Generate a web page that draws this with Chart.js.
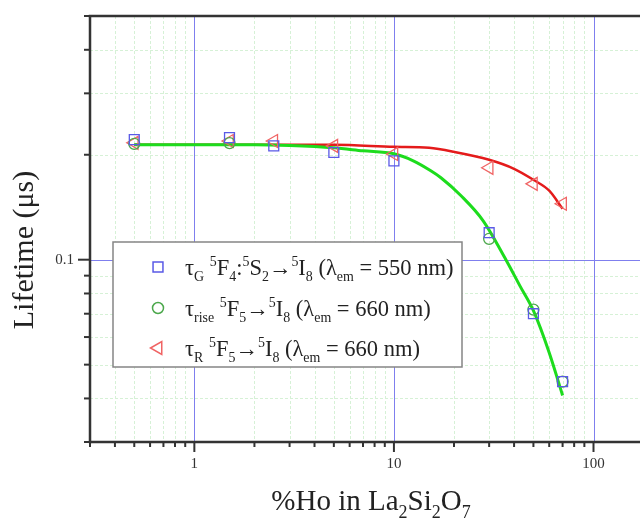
<!DOCTYPE html>
<html><head><meta charset="utf-8">
<script src="https://cdn.jsdelivr.net/npm/chart.js@4.4.1/dist/chart.umd.min.js"></script>
<style>html,body{margin:0;padding:0;background:#fff;overflow:hidden}canvas{display:block}</style>
</head><body>
<canvas id="c" width="640" height="518"></canvas>
<script>
// ---- data ----
const xG = [0.5, 1.5, 2.5, 5, 10, 30, 50, 70];
const tauG = [0.221, 0.224, 0.212, 0.203, 0.192, 0.1195, 0.070, 0.0447];
const xRise = [0.5, 1.5, 30, 50, 70];
const tauRise = [0.215, 0.216, 0.1148, 0.0719, 0.0447];
const xR = [0.5, 1.5, 2.5, 5, 10, 30, 50, 70];
const tauR = [0.2164, 0.219, 0.219, 0.212, 0.201, 0.1835, 0.165, 0.1447];
const fitGx = [0.5, 1, 2, 3, 5, 7, 10, 12.5, 15.3, 17.2, 21.7, 28, 36.4, 43, 50, 60, 70];
const fitGy = [0.2136, 0.2136, 0.2136, 0.2125, 0.2093, 0.2052, 0.2012, 0.1921, 0.1799, 0.1718, 0.1525, 0.1293, 0.1, 0.0837, 0.0714, 0.0541, 0.0408];
const fitRx = [0.5, 2, 5, 10, 15, 20, 30, 40, 50, 60, 70];
const fitRy = [0.2136, 0.2136, 0.2136, 0.2107, 0.2093, 0.2039, 0.1935, 0.1823, 0.1695, 0.1577, 0.1399];
const xGridValues = [0.3,0.4,0.5,0.6,0.7,0.8,0.9,1,2,3,4,5,6,7,8,9,10,20,30,40,50,60,70,80,90,100];
const xMajor = [1, 10, 100];
const xTickLabels = ['1', '10', '100'];
const yGridValues = [0.03,0.04,0.05,0.06,0.07,0.08,0.09,0.1,0.2,0.3,0.4,0.5];
const yMajor = [0.1];
const yTickLabels = ['0.1'];
const legendLabels = [
  'τ_{G} ^{5}F_{4}:^{5}S_{2}→^{5}I_{8} (λ_{em} = 550 nm)',
  'τ_{rise} ^{5}F_{5}→^{5}I_{8} (λ_{em} = 660 nm)',
  'τ_{R} ^{5}F_{5}→^{5}I_{8} (λ_{em} = 660 nm)'
];
const xTitle = '%Ho in La_{2}Si_{2}O_{7}';
const yTitle = 'Lifetime (μs)';

// ---- styles ----
const SERIF = '"Liberation Serif","Times New Roman",serif';
const C_SQ = '#5a5ae6', C_CI = '#4ca84c', C_TR = '#f06464';
const C_GL = '#1ddc1d', C_RL = '#e41b1b';
const markers = [
  {pointStyle:'rect', radius:7, rotation:0, color:C_SQ},
  {pointStyle:'circle', radius:5.5, rotation:0, color:C_CI},
  {pointStyle:'triangle', radius:7.5, rotation:-90, color:C_TR}
];

function parseRich(s){
  const segs=[]; let i=0, buf='';
  while(i<s.length){
    const c=s[i];
    if((c==='_'||c==='^') && s[i+1]==='{'){
      if(buf){segs.push({t:buf,k:0});buf='';}
      const j=s.indexOf('}',i);
      segs.push({t:s.slice(i+2,j),k:c==='_'?1:-1});
      i=j+1;
    } else {buf+=c;i++;}
  }
  if(buf) segs.push({t:buf,k:0});
  return segs;
}
function fontFor(s,size){ return (s.k? size*0.62 : size)+'px '+SERIF; }
function richWidth(ctx,segs,size){ let w=0; for(const s of segs){ctx.font=fontFor(s,size); w+=ctx.measureText(s.t).width;} return w; }
function drawRich(ctx,str,x,y,size,align){
  const segs=parseRich(str);
  let cx = align==='center' ? x - richWidth(ctx,segs,size)/2 : x;
  ctx.textAlign='left'; ctx.textBaseline='alphabetic';
  for(const s of segs){
    ctx.font=fontFor(s,size);
    const dy = s.k===1 ? size*0.28 : (s.k===-1 ? -size*0.38 : 0);
    ctx.fillText(s.t,cx,y+dy);
    cx += ctx.measureText(s.t).width;
  }
}

const pts=(xs,ys)=>xs.map((v,i)=>({x:v,y:ys[i]}));
const noPad = s => { s.paddingTop=0; s.paddingBottom=0; s.paddingLeft=0; s.paddingRight=0; };

const decor = {
  id:'decor',
  beforeDatasetsDraw(chart){
    const {ctx, chartArea:a, scales:{x,y}} = chart;
    ctx.save();
    ctx.lineWidth=1;
    ctx.strokeStyle='#d6f1d6'; ctx.setLineDash([3,2]);
    for(const v of xGridValues){ if(xMajor.includes(v)) continue;
      const p=Math.round(x.getPixelForValue(v))+0.5;
      ctx.beginPath(); ctx.moveTo(p,a.top); ctx.lineTo(p,a.bottom); ctx.stroke(); }
    for(const v of yGridValues){ if(yMajor.includes(v)) continue;
      const p=Math.round(y.getPixelForValue(v))+0.5;
      ctx.beginPath(); ctx.moveTo(a.left,p); ctx.lineTo(a.right,p); ctx.stroke(); }
    ctx.setLineDash([]);
    ctx.strokeStyle='#7f7fee';
    for(const v of xMajor){ const p=Math.round(x.getPixelForValue(v))+0.5;
      ctx.beginPath(); ctx.moveTo(p,a.top); ctx.lineTo(p,a.bottom); ctx.stroke(); }
    for(const v of yMajor){ const p=Math.round(y.getPixelForValue(v))+0.5;
      ctx.beginPath(); ctx.moveTo(a.left,p); ctx.lineTo(a.right,p); ctx.stroke(); }
    // legend box
    ctx.fillStyle='#fff'; ctx.fillRect(113,242,349,125);
    ctx.strokeStyle='#858585'; ctx.lineWidth=1.5; ctx.strokeRect(113,242,349,125);
    const rowsY=[267,308,348];
    legendLabels.forEach((lab,i)=>{
      const m=markers[i];
      ctx.save();
      ctx.strokeStyle=m.color; ctx.fillStyle='rgba(0,0,0,0)';
      Chart.helpers.drawPoint(ctx,{pointStyle:m.pointStyle,rotation:m.rotation,radius:m.radius,borderWidth:1.3},158,rowsY[i]);
      ctx.restore();
      ctx.fillStyle='#222';
      drawRich(ctx,lab,185,rowsY[i]+8,22.5,'left');
    });
    ctx.restore();
  },
  afterDraw(chart){
    const {ctx, chartArea:a, scales:{x,y}} = chart;
    ctx.save();
    ctx.strokeStyle='#333'; ctx.lineWidth=2.5; ctx.lineCap='butt';
    ctx.beginPath(); ctx.moveTo(a.left-1.25,a.top); ctx.lineTo(a.right,a.top); ctx.stroke();
    ctx.beginPath(); ctx.moveTo(a.left,a.top); ctx.lineTo(a.left,a.bottom+1.25); ctx.stroke();
    ctx.beginPath(); ctx.moveTo(a.left,a.bottom); ctx.lineTo(a.right,a.bottom); ctx.stroke();
    ctx.lineWidth=2;
    for(const v of xGridValues){ const p=x.getPixelForValue(v); const L=xMajor.includes(v)?10:5;
      ctx.beginPath(); ctx.moveTo(p,a.bottom); ctx.lineTo(p,a.bottom+L); ctx.stroke(); }
    for(const v of yGridValues){ const p=y.getPixelForValue(v); const L=yMajor.includes(v)?12:6;
      ctx.beginPath(); ctx.moveTo(a.left,p); ctx.lineTo(a.left-L,p); ctx.stroke(); }
    ctx.fillStyle='#222';
    drawRich(ctx,xTitle,371,510,29,'center');
    ctx.translate(33,250); ctx.rotate(-Math.PI/2);
    ctx.font='30px '+SERIF; ctx.textAlign='center'; ctx.textBaseline='alphabetic';
    ctx.fillText(yTitle,0,0);
    ctx.restore();
  }
};

new Chart(document.getElementById('c'), {
  type:'scatter',
  data:{datasets:[
    {data:pts(xG,tauG), pointStyle:'rect', pointRadius:7, pointRotation:0, borderColor:C_SQ, backgroundColor:'rgba(0,0,0,0)', pointBorderWidth:1.3},
    {data:pts(xRise,tauRise), pointStyle:'circle', pointRadius:5.5, borderColor:C_CI, backgroundColor:'rgba(0,0,0,0)', pointBorderWidth:1.3},
    {data:pts(xR,tauR), pointStyle:'triangle', pointRadius:7.5, pointRotation:-90, borderColor:C_TR, backgroundColor:'rgba(0,0,0,0)', pointBorderWidth:1.3},
    {data:pts(fitGx,fitGy), showLine:true, pointRadius:0, borderColor:C_GL, borderWidth:3, cubicInterpolationMode:'monotone'},
    {data:pts(fitRx,fitRy), showLine:true, pointRadius:0, borderColor:C_RL, borderWidth:2.5, cubicInterpolationMode:'monotone'}
  ]},
  options:{
    responsive:false, animation:false, devicePixelRatio:1, events:[],
    layout:{autoPadding:false, padding:{top:16,left:0,right:0,bottom:0}},
    plugins:{legend:{display:false}, tooltip:{enabled:false}},
    scales:{
      x:{type:'logarithmic', position:'bottom', min:0.3, max:171,
        grid:{display:false, drawTicks:false}, border:{display:false},
        afterBuildTicks:s=>{ s.ticks = xGridValues.map(v=>({value:v})); },
        afterFit:s=>{ s.height=76; noPad(s); },
        ticks:{autoSkip:false, maxRotation:0, padding:13, color:'#333', font:{family:SERIF,size:15},
          callback:(v)=>{ const i=xMajor.indexOf(v); return i>=0?xTickLabels[i]:''; }}},
      y:{type:'logarithmic', position:'left', min:0.03, max:0.5,
        grid:{display:false, drawTicks:false}, border:{display:false},
        afterBuildTicks:s=>{ s.ticks = yGridValues.map(v=>({value:v})); },
        afterFit:s=>{ s.width=90; noPad(s); },
        ticks:{autoSkip:false, padding:16, color:'#333', font:{family:SERIF,size:15},
          callback:(v)=>{ const i=yMajor.indexOf(v); return i>=0?yTickLabels[i]:''; }}}
    }
  },
  plugins:[decor]
});
</script>
</body></html>
